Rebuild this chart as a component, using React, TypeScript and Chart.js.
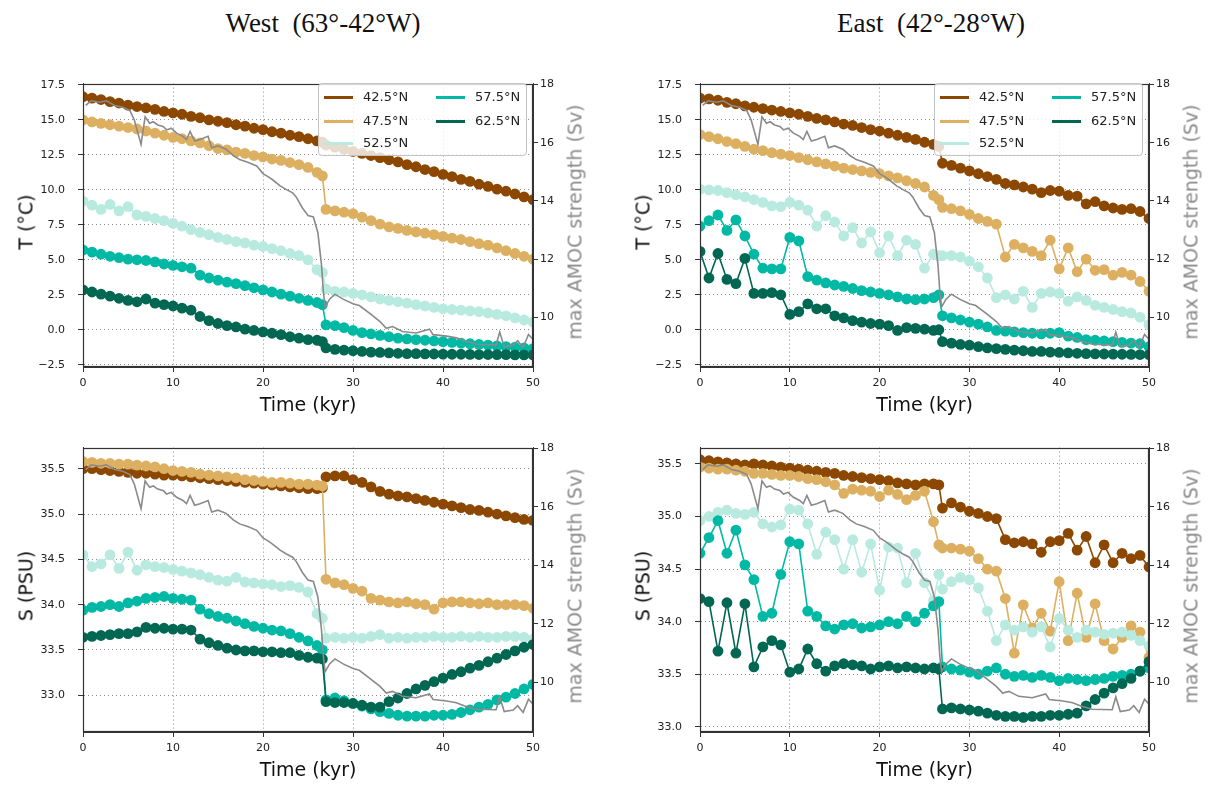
import React, { useEffect, useRef } from "react";
import { Chart, registerables } from "chart.js";

Chart.register(...registerables);

// ---------------- data ----------------
const TIME = [0, 1, 2, 3, 4, 5, 6, 7, 8, 9, 10, 11, 12, 13, 14, 15, 16, 17, 18, 19, 20, 21, 22, 23, 24, 25, 26, 26.6, 27, 28, 29, 30, 31, 32, 33, 34, 35, 36, 37, 38, 39, 40, 41, 42, 43, 44, 45, 46, 47, 48, 49, 50];

const SERIES_LABELS = ["42.5°N", "47.5°N", "52.5°N", "57.5°N", "62.5°N"];

// West, temperature
const W_T_42 = [16.65, 16.55, 16.45, 16.3, 16.2, 16.05, 15.95, 15.85, 15.75, 15.6, 15.5, 15.4, 15.25, 15.15, 15.0, 14.9, 14.8, 14.65, 14.55, 14.4, 14.3, 14.15, 14.05, 13.9, 13.8, 13.65, 13.5, 13.4, 13.2, 13.05, 12.9, 12.75, 12.6, 12.45, 12.3, 12.15, 12.0, 11.8, 11.65, 11.45, 11.3, 11.1, 10.95, 10.75, 10.6, 10.4, 10.25, 10.05, 9.9, 9.7, 9.5, 9.3];
const W_T_47 = [15.0, 14.85, 14.75, 14.65, 14.55, 14.45, 14.35, 14.2, 14.05, 13.9, 13.75, 13.65, 13.5, 13.35, 13.15, 12.95, 12.85, 12.7, 12.6, 12.45, 12.35, 12.2, 12.1, 11.95, 11.8, 11.6, 11.25, 11.0, 8.6, 8.5, 8.4, 8.3, 8.05, 7.8, 7.55, 7.35, 7.25, 7.1, 7.0, 6.9, 6.8, 6.67, 6.55, 6.45, 6.3, 6.15, 6.05, 5.85, 5.65, 5.45, 5.25, 5.05];
const W_T_52 = [9.2, 8.9, 8.6, 8.95, 8.5, 8.8, 8.2, 8.1, 7.95, 7.8, 7.6, 7.4, 7.15, 6.95, 6.8, 6.6, 6.45, 6.3, 6.2, 6.05, 5.95, 5.8, 5.65, 5.45, 5.3, 5.0, 4.3, 4.1, 2.9, 2.75, 2.7, 2.6, 2.5, 2.35, 2.2, 2.1, 2.0, 1.9, 1.8, 1.7, 1.6, 1.5, 1.45, 1.4, 1.35, 1.3, 1.2, 1.1, 1.0, 0.85, 0.7, 0.55];
const W_T_57 = [5.7, 5.55, 5.4, 5.25, 5.15, 5.05, 5.0, 4.95, 4.85, 4.7, 4.6, 4.5, 4.4, 3.9, 3.7, 3.55, 3.4, 3.3, 3.15, 3.0, 2.85, 2.7, 2.55, 2.4, 2.25, 2.1, 1.95, 1.8, 0.35, 0.3, 0.15, -0.05, -0.2, -0.3, -0.4, -0.5, -0.6, -0.65, -0.7, -0.75, -0.8, -0.85, -0.9, -0.95, -1.0, -1.05, -1.1, -1.15, -1.2, -1.25, -1.3, -1.35];
const W_T_62 = [2.85, 2.7, 2.55, 2.4, 2.25, 2.1, 2.0, 2.2, 1.9, 1.8, 1.7, 1.55, 1.4, 0.95, 0.65, 0.45, 0.3, 0.2, 0.05, -0.05, -0.15, -0.25, -0.35, -0.5, -0.6, -0.7, -0.75, -0.85, -1.3, -1.4, -1.45, -1.5, -1.55, -1.6, -1.62, -1.65, -1.68, -1.7, -1.7, -1.72, -1.73, -1.74, -1.75, -1.75, -1.76, -1.77, -1.77, -1.78, -1.78, -1.79, -1.8, -1.8];

// East, temperature
const E_T_42 = [16.55, 16.5, 16.4, 16.25, 16.15, 16.0, 15.9, 15.8, 15.7, 15.6, 15.5, 15.4, 15.25, 15.1, 15.0, 14.85, 14.7, 14.6, 14.45, 14.3, 14.2, 14.05, 13.9, 13.75, 13.6, 13.4, 13.25, 13.1, 11.9, 11.75, 11.55, 11.35, 11.15, 10.95, 10.75, 10.45, 10.35, 10.2, 10.05, 9.8, 9.95, 9.9, 9.6, 9.55, 9.0, 9.15, 8.85, 8.7, 8.6, 8.65, 8.45, 7.95];
const E_T_47 = [13.95, 13.8, 13.65, 13.45, 13.3, 13.1, 12.9, 12.8, 12.65, 12.55, 12.45, 12.3, 12.15, 12.0, 11.85, 11.7, 11.55, 11.45, 11.35, 11.25, 11.15, 11.0, 10.85, 10.65, 10.45, 10.2, 9.6, 9.3, 8.75, 8.65, 8.5, 8.25, 7.95, 7.75, 7.55, 5.2, 6.1, 5.85, 5.6, 5.3, 6.4, 4.35, 5.85, 4.15, 5.05, 4.25, 4.3, 3.9, 4.1, 3.9, 3.45, 2.75];
const E_T_52 = [10.05, 10.0, 9.95, 9.8, 9.65, 9.5, 9.3, 9.1, 8.85, 8.8, 9.1, 8.9, 8.55, 7.4, 8.15, 7.7, 6.7, 7.3, 6.2, 7.0, 5.5, 6.7, 5.3, 6.4, 6.1, 4.4, 5.4, 5.3, 5.3, 5.3, 5.2, 4.9, 4.5, 3.7, 2.3, 2.5, 2.2, 2.75, 1.6, 2.6, 2.7, 2.6, 2.05, 2.35, 2.1, 1.75, 1.6, 1.45, 1.3, 1.2, 0.9, 0.35];
const E_T_57 = [7.4, 7.8, 8.2, 7.1, 7.85, 6.7, 5.4, 4.4, 4.35, 4.35, 6.6, 6.35, 3.8, 3.55, 3.35, 3.2, 3.1, 2.95, 2.8, 2.7, 2.6, 2.5, 2.35, 2.2, 2.15, 2.2, 2.3, 2.5, 1.0, 0.85, 0.7, 0.55, 0.4, 0.2, -0.05, -0.1, -0.15, -0.2, -0.25, -0.3, -0.25, -0.2, -0.45, -0.55, -0.7, -0.75, -0.8, -0.85, -0.9, -0.95, -1.0, -1.2];
const E_T_62 = [5.6, 3.7, 5.45, 3.6, 3.3, 5.1, 2.6, 2.6, 2.65, 2.5, 1.1, 1.3, 1.85, 1.5, 1.5, 1.0, 0.85, 0.65, 0.55, 0.45, 0.4, 0.3, -0.05, 0.15, 0.1, 0.05, -0.05, 0.0, -0.85, -0.95, -1.05, -1.1, -1.2, -1.3, -1.35, -1.4, -1.45, -1.5, -1.55, -1.55, -1.6, -1.62, -1.65, -1.68, -1.7, -1.72, -1.73, -1.74, -1.75, -1.76, -1.77, -1.78];

// West, salinity
const W_S_42 = [35.5, 35.5, 35.49, 35.48, 35.47, 35.46, 35.45, 35.45, 35.44, 35.43, 35.43, 35.42, 35.41, 35.4, 35.39, 35.38, 35.37, 35.36, 35.35, 35.34, 35.33, 35.32, 35.31, 35.3, 35.29, 35.28, 35.28, 35.29, 35.41, 35.42, 35.42, 35.38, 35.35, 35.3, 35.25, 35.22, 35.2, 35.19, 35.17, 35.15, 35.13, 35.11, 35.09, 35.07, 35.05, 35.04, 35.02, 35.0, 34.98, 34.96, 34.94, 34.93];
const W_S_47 = [35.58, 35.57, 35.56, 35.56, 35.55, 35.55, 35.54, 35.53, 35.52, 35.5, 35.48, 35.47, 35.46, 35.44, 35.43, 35.42, 35.41, 35.4, 35.38, 35.37, 35.36, 35.35, 35.35, 35.34, 35.33, 35.33, 35.32, 35.31, 34.28, 34.24, 34.22, 34.18, 34.15, 34.07, 34.05, 34.03, 34.02, 34.03, 34.01, 34.0, 33.95, 34.02, 34.03, 34.03, 34.02, 34.01, 34.02, 34.0, 34.0, 34.0, 33.99, 33.96];
const W_S_52 = [34.55, 34.42, 34.45, 34.55, 34.4, 34.58, 34.38, 34.44, 34.42, 34.41, 34.39, 34.37, 34.35, 34.33, 34.3, 34.27, 34.26, 34.3, 34.25, 34.24, 34.23, 34.22, 34.2, 34.21, 34.19, 34.14, 33.9, 33.85, 33.63, 33.64, 33.63, 33.64, 33.63, 33.65, 33.67, 33.63, 33.64, 33.63, 33.64, 33.64, 33.65, 33.64, 33.64, 33.65, 33.64, 33.65, 33.64, 33.64, 33.65, 33.65, 33.64, 33.62];
const W_S_57 = [33.94, 33.97, 33.98, 34.0, 33.98, 34.02, 34.04, 34.07, 34.08, 34.09, 34.07, 34.06, 34.05, 33.95, 33.9, 33.87, 33.85, 33.82, 33.79, 33.76, 33.74, 33.72, 33.71, 33.68, 33.64, 33.6, 33.55, 33.5, 32.95, 32.97, 32.94, 32.91, 32.88, 32.85, 32.82, 32.8, 32.78, 32.77, 32.77, 32.77, 32.78, 32.78, 32.79, 32.81, 32.84, 32.87, 32.9, 32.95, 32.98, 33.02, 33.07, 33.12];
const W_S_62 = [33.64, 33.65, 33.66, 33.67, 33.68, 33.68, 33.7, 33.75, 33.74, 33.74, 33.73, 33.73, 33.72, 33.62, 33.58, 33.55, 33.52, 33.5, 33.49, 33.49, 33.48, 33.48, 33.47, 33.47, 33.44, 33.42, 33.41, 33.4, 32.93, 32.92, 32.92, 32.91, 32.89, 32.87, 32.87, 32.93, 32.97, 33.02, 33.07, 33.11, 33.15, 33.19, 33.23, 33.26, 33.3, 33.33, 33.37, 33.41, 33.45, 33.49, 33.53, 33.56];

// East, salinity
const E_S_42 = [35.54, 35.53, 35.52, 35.51, 35.5, 35.49, 35.5, 35.49, 35.48, 35.47, 35.46, 35.45, 35.44, 35.43, 35.42, 35.41, 35.39, 35.38, 35.37, 35.36, 35.35, 35.34, 35.32, 35.31, 35.3, 35.31, 35.31, 35.3, 35.08, 35.13, 35.09, 35.05, 35.03, 35.0, 34.98, 34.78, 34.75, 34.76, 34.74, 34.66, 34.76, 34.77, 34.84, 34.68, 34.81, 34.56, 34.73, 34.56, 34.65, 34.6, 34.63, 34.52];
const E_S_47 = [35.47, 35.46, 35.45, 35.45, 35.44, 35.43, 35.41, 35.41, 35.4, 35.39, 35.39, 35.38, 35.36, 35.35, 35.33, 35.3, 35.22, 35.26, 35.25, 35.24, 35.19, 35.25, 35.21, 35.16, 35.2, 35.24, 34.95, 34.73, 34.7, 34.7, 34.69, 34.67, 34.6, 34.5, 34.48, 34.22, 33.7, 34.16, 33.94, 34.08, 33.91, 34.38, 33.82, 34.27, 33.85, 34.17, 33.82, 33.74, 33.85, 33.96, 33.9, 33.66];
const E_S_52 = [34.96, 35.0, 35.04, 35.06, 35.03, 35.02, 35.04, 34.93, 34.9, 34.92, 35.07, 35.06, 34.93, 34.64, 34.85, 34.78, 34.5, 34.78, 34.47, 34.74, 34.3, 34.71, 34.7, 34.37, 34.65, 34.37, 34.2, 34.45, 34.31, 34.38, 34.42, 34.4, 34.32, 34.1, 33.82, 33.97, 33.92, 33.95, 33.9, 33.95, 33.76, 34.03, 33.92, 33.85, 33.92, 33.9, 33.88, 33.89, 33.9, 33.87, 33.82, 33.77];
const E_S_57 = [34.65, 34.8, 34.96, 34.65, 34.87, 34.54, 34.4, 34.05, 34.08, 34.45, 34.76, 34.74, 34.1, 34.05, 33.96, 33.93, 33.97, 33.98, 33.94, 33.95, 33.97, 34.0, 33.98, 34.05, 34.0, 34.08, 34.15, 34.19, 33.57, 33.55, 33.54, 33.52, 33.5, 33.53, 33.56, 33.5, 33.48, 33.49, 33.47, 33.49, 33.47, 33.44, 33.46, 33.45, 33.44, 33.45, 33.46, 33.48, 33.49, 33.5, 33.53, 33.56];
const E_S_62 = [34.22, 34.19, 33.72, 34.18, 33.7, 34.17, 33.57, 33.76, 33.82, 33.78, 33.52, 33.55, 33.74, 33.6, 33.53, 33.58, 33.6, 33.59, 33.58, 33.55, 33.57, 33.58, 33.56, 33.57, 33.56, 33.55, 33.56, 33.55, 33.17, 33.18, 33.17, 33.16, 33.15, 33.13, 33.11, 33.1, 33.1, 33.09, 33.1, 33.1, 33.11, 33.11, 33.12, 33.13, 33.2, 33.26, 33.32, 33.37, 33.41, 33.46, 33.53, 33.62];

// max AMOC strength (Sv), shared by all panels
const AMOC_TIME = [0.3, 0.9, 1.85, 2.6, 3.5, 4.4, 5.2, 5.7, 6.45, 6.9, 7.4, 7.8, 8.3, 8.9, 9.3, 9.8, 10.4, 11.1, 11.5, 11.9, 12.4, 13.0, 13.9, 14.3, 15.0, 15.9, 16.7, 17.4, 18.3, 19.3, 20.0, 20.6, 21.1, 21.9, 22.6, 23.3, 23.7, 24.4, 25.0, 25.6, 26.1, 26.5, 26.7, 26.9, 27.4, 28.0, 28.9, 30.0, 30.7, 31.9, 33.0, 33.7, 34.4, 35.5, 37.0, 38.5, 38.9, 40.4, 41.5, 42.4, 43.7, 45.9, 46.3, 46.8, 47.8, 48.3, 48.9, 49.5, 50.0];
const AMOC_SV = [17.28, 17.44, 17.39, 17.44, 17.28, 17.22, 17.11, 16.78, 15.94, 16.89, 16.67, 16.72, 16.61, 16.56, 16.44, 16.5, 16.33, 16.22, 16.11, 16.39, 16.06, 16.11, 16.22, 15.83, 15.89, 15.78, 15.56, 15.42, 15.33, 15.2, 14.94, 14.83, 14.72, 14.52, 14.39, 14.28, 14.13, 13.75, 13.5, 13.45, 12.91, 11.8, 10.91, 10.36, 10.63, 10.8, 10.63, 10.47, 10.41, 10.13, 9.86, 9.63, 9.69, 9.52, 9.47, 9.6, 9.41, 9.36, 9.3, 9.19, 9.08, 9.06, 9.5, 9.0, 9.05, 9.2, 8.97, 9.42, 9.25];

// tick labels
const X_TICKS = [0, 10, 20, 30, 40, 50];
const T_TICKS = [-2.5, 0, 2.5, 5, 7.5, 10, 12.5, 15, 17.5];
const S_TICKS = [33.0, 33.5, 34.0, 34.5, 35.0, 35.5];
const AMOC_TICKS = [10, 12, 14, 16, 18];

// ---------------- styling ----------------
const SERIES_COLORS = ["#8c4700", "#dcb060", "#b8eae0", "#00b9a5", "#006752"];
const AMOC_COLOR = "#8a8a8a";
const SANS = "'DejaVu Sans', sans-serif";

type PanelCfg = {
  left: number;
  right: number;
  top: number;
  bottom: number;
  yMin: number;
  yMax: number;
  yTicks: number[];
  series: number[][];
  yTitle: string;
  legend: boolean;
};

const PANELS: PanelCfg[] = [
  { left: 83, right: 533, top: 76, bottom: 367, yMin: -2.66, yMax: 17.59, yTicks: T_TICKS, series: [W_T_42, W_T_47, W_T_52, W_T_57, W_T_62], yTitle: "T (°C)", legend: true },
  { left: 700, right: 1149, top: 76, bottom: 367, yMin: -2.66, yMax: 17.59, yTicks: T_TICKS, series: [E_T_42, E_T_47, E_T_52, E_T_57, E_T_62], yTitle: "T (°C)", legend: true },
  { left: 83, right: 533, top: 440, bottom: 732, yMin: 32.595, yMax: 35.733, yTicks: S_TICKS, series: [W_S_42, W_S_47, W_S_52, W_S_57, W_S_62], yTitle: "S (PSU)", legend: false },
  { left: 700, right: 1149, top: 440, bottom: 732, yMin: 32.951, yMax: 35.655, yTicks: S_TICKS, series: [E_S_42, E_S_47, E_S_52, E_S_57, E_S_62], yTitle: "S (PSU)", legend: false },
];

const WL = 70;
const WR = 40;
const HX = 30;
const PT = 12;

const framePlugin = {
  id: "frame",
  afterDatasetsDraw(chart: any) {
    const { ctx, chartArea } = chart;
    const l = Math.round(chartArea.left) + 0.5;
    const t = Math.round(chartArea.top) + 0.5;
    const r = Math.round(chartArea.right) - 0.5;
    const b = Math.round(chartArea.bottom) - 0.5;
    ctx.save();
    ctx.strokeStyle = "#333";
    ctx.lineWidth = 1.2;
    ctx.strokeRect(l, t, r - l, b - t);
    ctx.restore();
  },
};

const fmtMinus = (v: number, digits: number) => v.toFixed(digits).replace("-", "\u2212");

function Panel({ cfg }: { cfg: PanelCfg }) {
  const ref = useRef<HTMLCanvasElement>(null);
  const width = cfg.right - cfg.left + WL + WR;
  const height = cfg.bottom - cfg.top + PT + HX;

  useEffect(() => {
    const canvas = ref.current;
    if (!canvas) return;
    const datasets: any[] = [
      {
        label: "max AMOC strength",
        data: AMOC_TIME.map((t, i) => ({ x: t, y: AMOC_SV[i] })),
        yAxisID: "y2",
        borderColor: AMOC_COLOR,
        backgroundColor: AMOC_COLOR,
        borderWidth: 1.6,
        pointRadius: 0,
        order: 0,
        clip: 0,
      },
      ...cfg.series.map((vals, i) => ({
        label: SERIES_LABELS[i],
        data: TIME.map((t, j) => ({ x: t, y: vals[j] })),
        yAxisID: "y",
        borderColor: SERIES_COLORS[i],
        backgroundColor: SERIES_COLORS[i],
        pointBackgroundColor: SERIES_COLORS[i],
        pointBorderColor: SERIES_COLORS[i],
        borderWidth: 1.6,
        pointRadius: 5.4,
        pointBorderWidth: 0,
        order: 5 - i,
        clip: 0,
      })),
    ];

    const tickFont = { family: SANS, size: 11 };
    const chart = new Chart(canvas, {
      type: "line",
      data: { datasets },
      plugins: [framePlugin],
      options: {
        animation: false,
        responsive: false,
        maintainAspectRatio: false,
        devicePixelRatio: 1,
        events: [],
        layout: { padding: { top: PT, left: 0, right: 0, bottom: 0 } },
        plugins: { legend: { display: false }, tooltip: { enabled: false }, title: { display: false } },
        elements: { line: { tension: 0 } },
        scales: {
          x: {
            type: "linear",
            position: "bottom",
            min: 0,
            max: 50,
            afterBuildTicks: (s: any) => {
              s.ticks = X_TICKS.map((v) => ({ value: v }));
            },
            afterFit: (s: any) => {
              s.height = HX;
            },
            ticks: { color: "#222", font: tickFont, padding: 5, maxRotation: 0, autoSkip: false, callback: (v: any) => String(v) },
            grid: { display: true, color: "rgba(0,0,0,0.45)", lineWidth: 1, drawTicks: true, tickLength: 5, tickColor: "#333", tickWidth: 1 },
            border: { display: true, color: "#333", width: 1, dash: [1, 3] },
          },
          y: {
            type: "linear",
            position: "left",
            min: cfg.yMin,
            max: cfg.yMax,
            afterBuildTicks: (s: any) => {
              s.ticks = cfg.yTicks.map((v) => ({ value: v }));
            },
            afterFit: (s: any) => {
              s.width = WL;
            },
            ticks: { color: "#222", font: tickFont, padding: 13, autoSkip: false, callback: (v: any) => fmtMinus(Number(v), 1) },
            grid: { display: true, color: "rgba(0,0,0,0.45)", lineWidth: 1, drawTicks: true, tickLength: 5, tickColor: "#333", tickWidth: 1 },
            border: { display: true, color: "#333", width: 1, dash: [1, 3] },
          },
          y2: {
            type: "linear",
            position: "right",
            min: 8.3,
            max: 18.03,
            afterBuildTicks: (s: any) => {
              s.ticks = AMOC_TICKS.map((v) => ({ value: v }));
            },
            afterFit: (s: any) => {
              s.width = WR;
            },
            ticks: { color: "#222", font: tickFont, padding: 2, autoSkip: false, callback: (v: any) => String(v) },
            grid: { display: true, drawOnChartArea: false, drawTicks: true, tickLength: 5, tickColor: "#333", tickWidth: 1 },
            border: { display: true, color: "#333", width: 1 },
          },
        },
      } as any,
    });
    return () => chart.destroy();
  }, [cfg]);

  const cx = (cfg.left + cfg.right) / 2;
  const cy = (cfg.top + cfg.bottom) / 2;
  const rot = (x: number, y: number, text: string, color: string) => (
    <div
      style={{
        position: "absolute",
        left: x,
        top: y,
        transform: "translate(-50%, -50%) rotate(-90deg)",
        whiteSpace: "nowrap",
        fontFamily: SANS,
        fontSize: 19,
        lineHeight: "19px",
        color,
      }}
    >
      {text}
    </div>
  );

  return (
    <>
      <canvas
        ref={ref}
        width={width}
        height={height}
        style={{ position: "absolute", left: cfg.left - WL, top: cfg.top - PT, width, height }}
      />
      {rot(cfg.left - 57, cy, cfg.yTitle, "#111")}
      {rot(cfg.right + 42, cy, "max AMOC strength (Sv)", "#8a8a8a")}
      <div
        style={{
          position: "absolute",
          left: cx,
          top: cfg.bottom + 37,
          transform: "translate(-50%, -50%)",
          whiteSpace: "nowrap",
          fontFamily: SANS,
          fontSize: 19,
          lineHeight: "19px",
          color: "#111",
        }}
      >
        Time (kyr)
      </div>
      {cfg.legend ? <Legend right={cfg.right - 6} top={cfg.top + 7} /> : null}
    </>
  );
}

function Legend({ right, top }: { right: number; top: number }) {
  const W = 209;
  const H = 73;
  const pos = [
    { col: 0, row: 0 },
    { col: 0, row: 1 },
    { col: 0, row: 2 },
    { col: 1, row: 0 },
    { col: 1, row: 1 },
  ];
  const rowsY = [13, 37, 59];
  const colLine = [5, 117];
  const colText = [44, 156];
  return (
    <div
      style={{
        position: "absolute",
        left: right - W,
        top,
        width: W,
        height: H,
        boxSizing: "border-box",
        border: "1px solid #c4c4c4",
        borderRadius: 4,
        background: "rgba(255,255,255,0.8)",
      }}
    >
      {SERIES_LABELS.map((lab, i) => {
        const p = pos[i];
        return (
          <React.Fragment key={lab}>
            <div
              style={{
                position: "absolute",
                left: colLine[p.col],
                top: rowsY[p.row] - 1.5,
                width: 29,
                height: 3,
                background: SERIES_COLORS[i],
              }}
            />
            <div
              style={{
                position: "absolute",
                left: colText[p.col],
                top: rowsY[p.row] - 8,
                height: 16,
                lineHeight: "16px",
                fontFamily: SANS,
                fontSize: 13,
                color: "#222",
                whiteSpace: "nowrap",
              }}
            >
              {lab}
            </div>
          </React.Fragment>
        );
      })}
    </div>
  );
}

export default function App() {
  const titleStyle: React.CSSProperties = {
    position: "absolute",
    top: 8,
    transform: "translateX(-50%)",
    fontFamily: "'Liberation Serif', 'Times New Roman', serif",
    fontSize: 27,
    lineHeight: "30px",
    color: "#111",
    whiteSpace: "pre",
  };
  return (
    <div style={{ position: "absolute", left: 0, top: 0, width: 1207, height: 785, background: "#fff", overflow: "hidden" }}>
      <div style={{ ...titleStyle, left: 323 }}>{"West  (63°-42°W)"}</div>
      <div style={{ ...titleStyle, left: 931 }}>{"East  (42°-28°W)"}</div>
      {PANELS.map((cfg, i) => (
        <Panel key={i} cfg={cfg} />
      ))}
    </div>
  );
}
